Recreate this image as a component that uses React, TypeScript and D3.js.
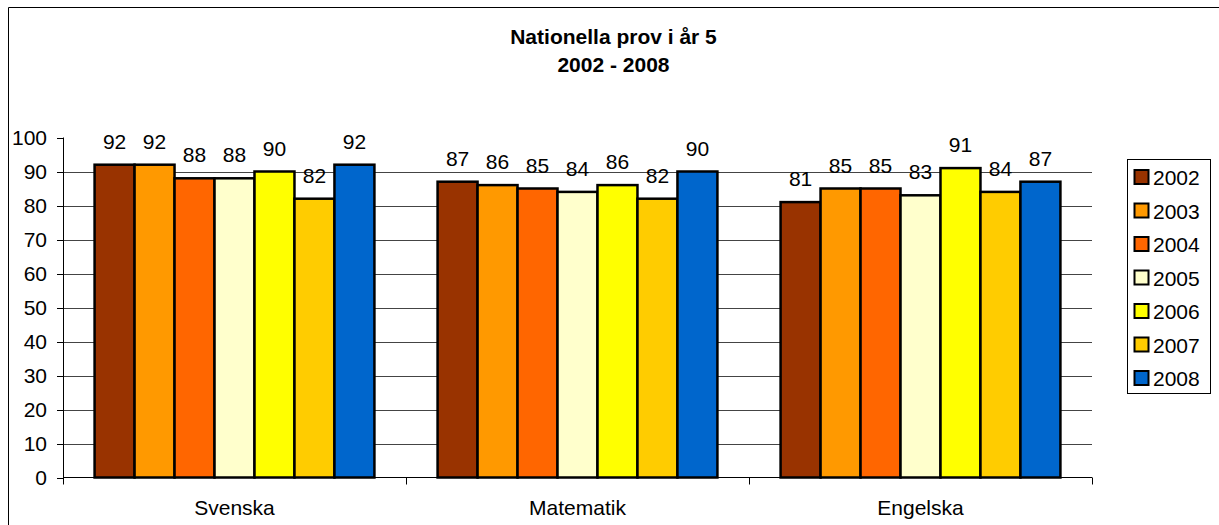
import * as d3 from "d3";

const categories = ["Svenska", "Matematik", "Engelska"];
const years = ["2002", "2003", "2004", "2005", "2006", "2007", "2008"];
const colors = ["#993300", "#FF9900", "#FF6600", "#FFFFCC", "#FFFF00", "#FFCC00", "#0066CC"];
// values per year, one per category
const v2002 = [92, 87, 81];
const v2003 = [92, 86, 85];
const v2004 = [88, 85, 85];
const v2005 = [88, 84, 83];
const v2006 = [90, 86, 91];
const v2007 = [82, 82, 84];
const v2008 = [92, 90, 87];
const series = [v2002, v2003, v2004, v2005, v2006, v2007, v2008];
const yTicks = [0, 10, 20, 30, 40, 50, 60, 70, 80, 90, 100];

const W = 1219;
const H = 525;
const plot = { left: 63, right: 1092, top: 137.5, bottom: 477.5 };
const font = "Arial, 'Liberation Sans', sans-serif";

export default function App() {
  const x0 = d3
    .scaleBand()
    .domain(categories)
    .range([plot.left, plot.right])
    .paddingInner(0)
    .paddingOuter(0);
  const x1 = d3
    .scaleBand()
    .domain(years)
    .range([0, x0.bandwidth()])
    .paddingOuter(0.79);
  const y = d3.scaleLinear().domain([0, 100]).range([plot.bottom, plot.top]);

  const boundaries = [...categories.map((c) => x0(c)!), plot.right];

  return (
    <svg
      width={W}
      height={H}
      style={{ position: "absolute", left: 0, top: 0, background: "#fff" }}
      fontFamily={font}
    >
      {/* chart border (cropped on right/bottom) */}
      <line x1={8.5} y1={7.5} x2={W} y2={7.5} stroke="#000" strokeWidth={1} />
      <line x1={8.5} y1={7.5} x2={8.5} y2={H} stroke="#000" strokeWidth={1} />

      <text x={613.5} y={44} textAnchor="middle" fontSize={21} fontWeight="bold">
        Nationella prov i år 5
      </text>
      <text x={613.5} y={72} textAnchor="middle" fontSize={21} fontWeight="bold">
        2002 - 2008
      </text>

      {/* gridlines */}
      {yTicks
        .filter((t) => t > 0 && t < 100)
        .map((t) => (
          <line
            key={"g" + t}
            x1={plot.left}
            x2={plot.right}
            y1={Math.round(y(t)) + 0.5}
            y2={Math.round(y(t)) + 0.5}
            stroke="#444"
            strokeWidth={1}
          />
        ))}

      {/* y axis */}
      <line x1={plot.left + 0.5} x2={plot.left + 0.5} y1={plot.top} y2={plot.bottom} stroke="#000" />
      {yTicks.map((t) => (
        <g key={"t" + t}>
          <line
            x1={plot.left - 6}
            x2={plot.left}
            y1={Math.round(y(t)) + 0.5}
            y2={Math.round(y(t)) + 0.5}
            stroke="#000"
          />
          <text x={47} y={y(t) + 7.5} textAnchor="end" fontSize={21}>
            {t}
          </text>
        </g>
      ))}

      {/* bars */}
      {categories.map((c, ci) => (
        <g key={c} transform={`translate(${x0(c)},0)`}>
          {series.map((s, si) => (
            <g key={years[si]}>
              <rect
                x={x1(years[si])!}
                y={y(s[ci])}
                width={x1.bandwidth()}
                height={plot.bottom - y(s[ci])}
                fill={colors[si]}
                stroke="#000"
                strokeWidth={2.5}
              />
              <text
                x={x1(years[si])! + x1.bandwidth() / 2}
                y={y(s[ci]) - 16}
                textAnchor="middle"
                fontSize={21}
              >
                {s[ci]}
              </text>
            </g>
          ))}
        </g>
      ))}

      {/* x axis */}
      <line x1={plot.left} x2={plot.right} y1={plot.bottom} y2={plot.bottom} stroke="#000" />
      {boundaries.map((b, i) => (
        <line key={"b" + i} x1={b + 0.5} x2={b + 0.5} y1={plot.bottom} y2={plot.bottom + 7} stroke="#000" />
      ))}
      {categories.map((c) => (
        <text key={"l" + c} x={x0(c)! + x0.bandwidth() / 2} y={515} textAnchor="middle" fontSize={21}>
          {c}
        </text>
      ))}

      {/* legend */}
      <rect x={1127.5} y={159.5} width={83} height={234} fill="#fff" stroke="#000" strokeWidth={1} />
      {years.map((yr, i) => {
        const cy = 177 + i * 33.5;
        return (
          <g key={"lg" + yr}>
            <rect x={1134.5} y={cy - 7} width={14} height={14} fill={colors[i]} stroke="#000" strokeWidth={2} />
            <text x={1153} y={cy + 8} fontSize={21}>
              {yr}
            </text>
          </g>
        );
      })}
    </svg>
  );
}
